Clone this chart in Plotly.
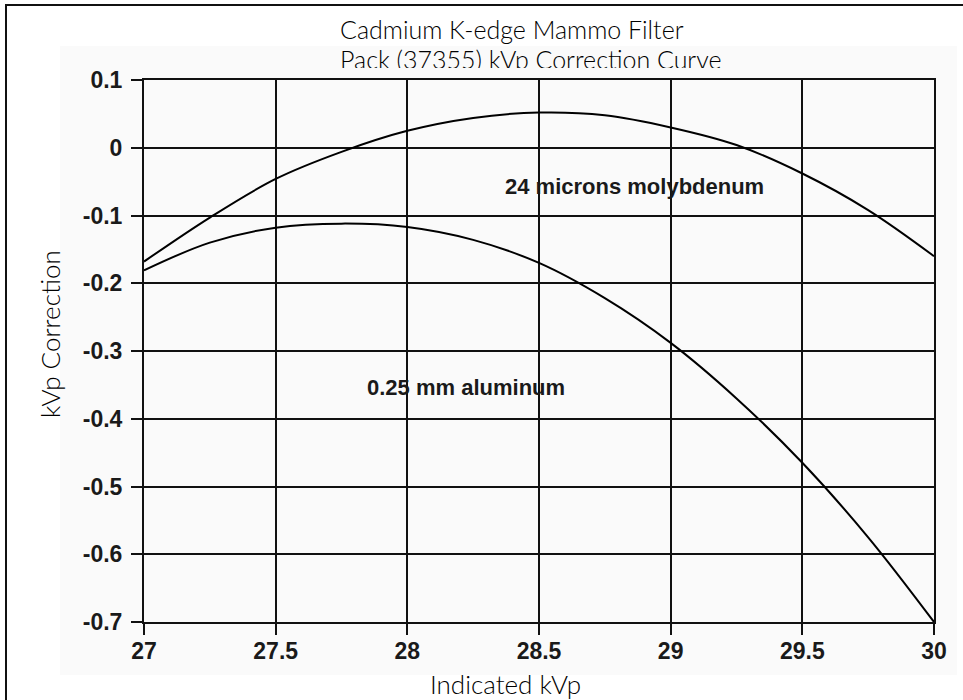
import plotly.graph_objects as go

# Indicated kVp positions where the curves are sampled
kvp = [27.0, 27.25, 27.5, 27.75, 28.0, 28.25, 28.5, 28.75, 29.0, 29.25, 29.5, 29.75, 30.0]

# kVp correction for each filter
moly_24um = [-0.168, -0.103, -0.046, -0.006, 0.025, 0.044, 0.052, 0.048, 0.030, 0.004, -0.038, -0.092, -0.160]
alum_025mm = [-0.181, -0.140, -0.118, -0.112, -0.117, -0.136, -0.170, -0.222, -0.288, -0.370, -0.465, -0.575, -0.700]

x_ticks = [27, 27.5, 28, 28.5, 29, 29.5, 30]
x_ticktext = ["27", "27.5", "28", "28.5", "29", "29.5", "30"]
y_ticks = [0.1, 0, -0.1, -0.2, -0.3, -0.4, -0.5, -0.6, -0.7]
y_ticktext = ["0.1", "0", "-0.1", "-0.2", "-0.3", "-0.4", "-0.5", "-0.6", "-0.7"]

title_lines = ["Cadmium K-edge Mammo Filter", "Pack (37355) kVp Correction Curve"]
x_title = "Indicated kVp"
y_title = "kVp Correction"
label_moly = "24 microns molybdenum"
label_alum = "0.25 mm aluminum"

W, H = 963, 700
L, R, T, B = 144, 29, 80, 78
PW, PH = W - L - R, H - T - B


def px(xp):
    return (xp - L) / PW


def py(yp):
    return (H - B - yp) / PH


TITLE = dict(family="Lato, Open Sans, sans-serif", size=25, color="#000", weight=300)
LIGHT = dict(family="Lato, Open Sans, sans-serif", size=26, color="#000", weight=300)
TICK = dict(family="Liberation Sans, Arial, sans-serif", size=23, color="#1a1a1a", weight="bold")
LABEL = dict(family="Liberation Sans, Arial, sans-serif", size=22, color="#1a1a1a", weight="bold")

fig = go.Figure()
for ys in (moly_24um, alum_025mm):
    fig.add_trace(go.Scatter(
        x=kvp, y=ys, mode="lines",
        line=dict(color="black", width=2, shape="spline", smoothing=1.0),
        showlegend=False, hoverinfo="skip",
    ))

axis_common = dict(
    showgrid=True, gridcolor="#111", gridwidth=2,
    showline=True, linecolor="#111", linewidth=2, mirror=True,
    ticks="outside", ticklen=11, tickwidth=2, tickcolor="#111",
    tickfont=TICK, zeroline=False,
)
fig.update_xaxes(range=[27, 30], tickvals=x_ticks, ticktext=x_ticktext, ticklabelstandoff=-4, **axis_common)
fig.update_yaxes(range=[-0.7, 0.1], tickvals=y_ticks, ticktext=y_ticktext, ticklabelstandoff=4, **axis_common)

shapes = [
    # faint grey backdrop behind the chart body
    dict(type="rect", xref="paper", yref="paper", layer="below",
         x0=px(60), x1=px(957), y0=py(675), y1=py(46),
         fillcolor="#fafafa", line=dict(width=0)),
    # outer frame
    dict(type="rect", xref="paper", yref="paper", layer="above",
         x0=px(6), x1=px(990), y0=py(730), y1=py(5),
         fillcolor="rgba(0,0,0,0)", line=dict(color="#111", width=2)),
]

annotations = [
    dict(text=title_lines[0], x=px(338), y=py(29), xref="paper", yref="paper",
         showarrow=False, xanchor="left", yanchor="middle", font=TITLE),
    dict(text=title_lines[1], x=px(338), y=py(59), xref="paper", yref="paper",
         showarrow=False, xanchor="left", yanchor="middle", font=TITLE),
    # band that trims the lower edge of the second title line
    dict(text=" ", x=px(320), y=py(68), xref="paper", yref="paper",
         showarrow=False, xanchor="left", yanchor="top",
         width=420, height=10, bgcolor="#fafafa", borderpad=0, borderwidth=0,
         font=dict(size=4)),
    dict(text=y_title, x=px(50), y=py(334), xref="paper", yref="paper",
         showarrow=False, textangle=-90, xanchor="center", yanchor="middle", font=LIGHT),
    dict(text=x_title, x=px(505), y=py(684), xref="paper", yref="paper",
         showarrow=False, xanchor="center", yanchor="middle", font=LIGHT),
    dict(text=label_moly, x=28.861, y=-0.057, xref="x", yref="y",
         showarrow=False, xanchor="center", yanchor="middle", font=LABEL),
    dict(text=label_alum, x=28.223, y=-0.3535, xref="x", yref="y",
         showarrow=False, xanchor="center", yanchor="middle", font=LABEL),
]

fig.update_layout(
    width=W, height=H,
    margin=dict(l=L, r=R, t=T, b=B, autoexpand=False),
    paper_bgcolor="white", plot_bgcolor="rgba(0,0,0,0)",
    shapes=shapes, annotations=annotations,
)

fig.write_html("out.html")
